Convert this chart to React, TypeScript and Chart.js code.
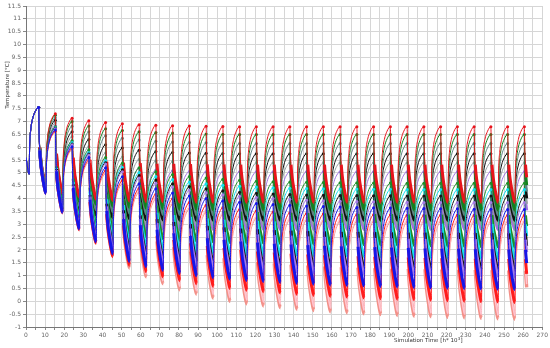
import { useEffect, useRef } from "react";
import { Chart, registerables } from "chart.js";
Chart.register(...registerables);

// ---- time base (h*10^3) ----
const YEAR = 8.76;
const FIRST_MIN = 1.65;
const PEAK_AFTER_MIN = 4.95;
const END_TIME = 262.8;
const START_VALUE = 5.6;

// cycle shape (fraction between min and peak)
const riseOffsets = [0, 0.25, 0.8, 1.8, 3.2, 4.95];
const riseShape = [0, 0.42, 0.66, 0.83, 0.94, 1];
const fallOffsets = [0.25, 0.6, 1.2, 2.2, 3.0];
const fallShape = [0.68, 0.5, 0.33, 0.17, 0.07];

// ---- series: yearly peaks (30) and minima (initial + 30) ----
const redAPeaks = [7.55,7.3,7.13,7.03,6.96,6.91,6.88,6.86,6.84,6.83,6.82,6.81,6.8,6.8,6.8,6.8,6.8,6.8,6.8,6.8,6.8,6.8,6.8,6.8,6.8,6.8,6.8,6.8,6.8,6.8];
const redAMins = [4.95,4.45,4.2,4.06,3.98,3.93,3.9,3.88,3.87,3.86,3.85,3.85,3.85,3.85,3.85,3.85,3.85,3.85,3.85,3.85,3.85,3.85,3.85,3.85,3.85,3.85,3.85,3.85,3.85,3.85,3.85];
const greenAPeaks = [7.55,7.25,7.0,6.83,6.72,6.65,6.6,6.57,6.55,6.53,6.52,6.51,6.5,6.5,6.5,6.5,6.5,6.5,6.5,6.5,6.5,6.5,6.5,6.5,6.5,6.5,6.5,6.5,6.5,6.5];
const greenAMins = [4.95,4.43,4.12,3.9,3.78,3.7,3.65,3.62,3.6,3.58,3.57,3.56,3.55,3.55,3.55,3.55,3.55,3.55,3.55,3.55,3.55,3.55,3.55,3.55,3.55,3.55,3.55,3.55,3.55,3.55,3.55];
const slatePeaks = [7.55,7.15,6.82,6.6,6.45,6.35,6.28,6.23,6.2,6.18,6.17,6.16,6.15,6.15,6.15,6.15,6.15,6.15,6.15,6.15,6.15,6.15,6.15,6.15,6.15,6.15,6.15,6.15,6.15,6.15];
const slateMins = [4.95,4.4,4.0,3.72,3.56,3.47,3.42,3.39,3.37,3.36,3.35,3.35,3.35,3.35,3.35,3.35,3.35,3.35,3.35,3.35,3.35,3.35,3.35,3.35,3.35,3.35,3.35,3.35,3.35,3.35,3.35];
const blackAPeaks = [7.55,7.05,6.6,6.3,6.1,5.97,5.88,5.83,5.8,5.78,5.77,5.76,5.75,5.75,5.75,5.75,5.75,5.75,5.75,5.75,5.75,5.75,5.75,5.75,5.75,5.75,5.75,5.75,5.75,5.75];
const blackAMins = [4.95,4.37,3.9,3.55,3.36,3.26,3.21,3.18,3.17,3.16,3.15,3.15,3.15,3.15,3.15,3.15,3.15,3.15,3.15,3.15,3.15,3.15,3.15,3.15,3.15,3.15,3.15,3.15,3.15,3.15,3.15];
const grayPeaks = [7.55,6.95,6.42,6.03,5.78,5.62,5.52,5.47,5.44,5.42,5.41,5.4,5.4,5.4,5.4,5.4,5.4,5.4,5.4,5.4,5.4,5.4,5.4,5.4,5.4,5.4,5.4,5.4,5.4,5.4];
const grayMins = [4.95,4.34,3.8,3.4,3.18,3.08,3.04,3.02,3.01,3.0,3.0,3.0,3.0,3.0,3.0,3.0,3.0,3.0,3.0,3.0,3.0,3.0,3.0,3.0,3.0,3.0,3.0,3.0,3.0,3.0,3.0];
const violetAPeaks = [7.55,6.85,6.25,5.8,5.5,5.3,5.18,5.11,5.08,5.06,5.05,5.05,5.05,5.05,5.05,5.05,5.05,5.05,5.05,5.05,5.05,5.05,5.05,5.05,5.05,5.05,5.05,5.05,5.05,5.05];
const violetAMins = [4.95,4.31,3.7,3.25,2.99,2.88,2.84,2.82,2.81,2.8,2.8,2.8,2.8,2.8,2.8,2.8,2.8,2.8,2.8,2.8,2.8,2.8,2.8,2.8,2.8,2.8,2.8,2.8,2.8,2.8,2.8];

const greenBPeaks = [7.55,6.8,6.25,5.9,5.6,5.38,5.2,5.05,4.94,4.86,4.8,4.75,4.71,4.68,4.66,4.65,4.64,4.63,4.62,4.62,4.61,4.61,4.6,4.6,4.6,4.6,4.6,4.6,4.6,4.6];
const greenBMins = [4.95,4.28,3.72,3.3,2.98,2.75,2.6,2.5,2.43,2.38,2.34,2.31,2.29,2.27,2.26,2.25,2.24,2.23,2.22,2.21,2.2,2.19,2.18,2.17,2.16,2.15,2.14,2.13,2.12,2.11,2.1];
const cyanPeaks = [7.55,6.76,6.18,5.8,5.48,5.22,5.02,4.86,4.74,4.65,4.58,4.52,4.48,4.45,4.42,4.4,4.39,4.38,4.37,4.37,4.36,4.36,4.35,4.35,4.35,4.35,4.35,4.35,4.35,4.35];
const cyanMins = [4.95,4.26,3.62,3.12,2.75,2.47,2.28,2.14,2.04,1.97,1.92,1.88,1.85,1.83,1.81,1.8,1.79,1.78,1.77,1.76,1.75,1.74,1.73,1.72,1.71,1.7,1.69,1.68,1.67,1.66,1.65];
const blackBPeaks = [7.55,6.74,6.13,5.74,5.4,5.12,4.9,4.72,4.58,4.47,4.38,4.31,4.25,4.21,4.18,4.16,4.14,4.13,4.12,4.12,4.11,4.11,4.1,4.1,4.1,4.1,4.1,4.1,4.1,4.1];
const blackBMins = [4.95,4.24,3.55,2.98,2.55,2.2,1.97,1.8,1.68,1.6,1.54,1.49,1.45,1.42,1.39,1.37,1.35,1.33,1.31,1.3,1.29,1.28,1.27,1.26,1.25,1.24,1.23,1.22,1.21,1.2,1.2];
const violetBPeaks = [7.55,6.72,6.1,5.7,5.35,5.05,4.8,4.6,4.45,4.33,4.23,4.15,4.09,4.04,4.0,3.97,3.94,3.92,3.9,3.89,3.88,3.87,3.86,3.85,3.85,3.85,3.85,3.85,3.85,3.85];
const violetBMins = [4.95,4.22,3.5,2.9,2.45,2.05,1.8,1.62,1.5,1.41,1.34,1.29,1.25,1.21,1.18,1.16,1.14,1.12,1.1,1.08,1.07,1.05,1.04,1.03,1.02,1.01,1.0,0.99,0.98,0.97,0.96];
const bluePeaks = [7.55,6.67,6.02,5.6,5.2,4.85,4.58,4.38,4.22,4.1,4.0,3.92,3.86,3.81,3.77,3.74,3.71,3.69,3.67,3.65,3.64,3.63,3.62,3.61,3.6,3.6,3.59,3.59,3.58,3.58];
const blueMins = [4.95,4.2,3.46,2.82,2.32,1.85,1.55,1.35,1.2,1.08,0.99,0.92,0.86,0.81,0.77,0.73,0.7,0.67,0.64,0.62,0.6,0.58,0.56,0.54,0.52,0.51,0.5,0.48,0.47,0.46,0.45];
const redBPeaks = [7.55,6.62,5.95,5.5,5.08,4.7,4.4,4.17,3.99,3.85,3.74,3.65,3.58,3.52,3.48,3.45,3.42,3.4,3.39,3.38,3.37,3.36,3.35,3.35,3.35,3.35,3.35,3.35,3.35,3.35];
const redBMins = [4.95,4.2,3.44,2.78,2.26,1.74,1.4,1.15,0.95,0.8,0.68,0.58,0.5,0.43,0.37,0.32,0.27,0.23,0.19,0.16,0.13,0.1,0.08,0.06,0.04,0.02,0.0,-0.02,-0.03,-0.05,-0.06];
const salmonPeaks = [7.55,6.6,5.9,5.42,4.98,4.58,4.25,3.98,3.77,3.6,3.47,3.37,3.3,3.24,3.2,3.17,3.15,3.13,3.12,3.11,3.1,3.1,3.1,3.1,3.1,3.1,3.1,3.1,3.1,3.1];
const salmonMins = [4.95,4.25,3.5,2.85,2.3,1.78,1.3,0.95,0.68,0.45,0.28,0.13,0.0,-0.1,-0.18,-0.25,-0.31,-0.36,-0.41,-0.45,-0.49,-0.52,-0.55,-0.58,-0.6,-0.62,-0.64,-0.66,-0.68,-0.7,-0.71];
const pinkPeaks = [7.55,6.62,5.93,5.46,5.03,4.64,4.31,4.05,3.85,3.68,3.55,3.45,3.38,3.32,3.28,3.25,3.23,3.21,3.2,3.19,3.18,3.18,3.18,3.18,3.18,3.18,3.18,3.18,3.18,3.18];
const pinkMins = [4.95,4.27,3.54,2.9,2.36,1.86,1.4,1.06,0.8,0.58,0.41,0.26,0.14,0.04,-0.04,-0.11,-0.17,-0.22,-0.27,-0.31,-0.35,-0.38,-0.41,-0.44,-0.46,-0.48,-0.5,-0.52,-0.54,-0.56,-0.57];

// first entry is drawn on top
const seriesList = [
  { color: "#1616e8", peaks: bluePeaks, mins: blueMins, band: 3 },
  { color: "#a57ae6", peaks: violetBPeaks, mins: violetBMins, band: 3 },
  { color: "#141414", peaks: blackBPeaks, mins: blackBMins, band: 3 },
  { color: "#12dfee", peaks: cyanPeaks, mins: cyanMins, band: 3 },
  { color: "#1c8f26", peaks: greenBPeaks, mins: greenBMins, band: 3 },
  { color: "#ff1c1c", peaks: redBPeaks, mins: redBMins, band: 3 },
  { color: "#ffc4d0", peaks: pinkPeaks, mins: pinkMins, band: 1.6 },
  { color: "#f39088", peaks: salmonPeaks, mins: salmonMins, band: 3.4 },
  { color: "#e8141c", peaks: redAPeaks, mins: redAMins, band: 3 },
  { color: "#13801e", peaks: greenAPeaks, mins: greenAMins, band: 3 },
  { color: "#5e8484", peaks: slatePeaks, mins: slateMins, band: 2.6 },
  { color: "#101010", peaks: blackAPeaks, mins: blackAMins, band: 3 },
  { color: "#94a0a0", peaks: grayPeaks, mins: grayMins, band: 2.6 },
  { color: "#a070e0", peaks: violetAPeaks, mins: violetAMins, band: 3 },
];

type Pt = { x: number; y: number; peak?: boolean; band?: boolean };

function buildSeries(peaks: number[], mins: number[]): Pt[] {
  const pts: Pt[] = [{ x: 0, y: START_VALUE }];
  for (let k = 0; k < peaks.length; k++) {
    const tm = FIRST_MIN + YEAR * k;
    const m = mins[k];
    const p = peaks[k];
    const mn = mins[k + 1];
    for (let j = 0; j < riseOffsets.length; j++) {
      const x = tm + riseOffsets[j];
      if (x > END_TIME) return pts;
      pts.push({ x, y: m + (p - m) * riseShape[j], peak: j === riseOffsets.length - 1 });
    }
    const tp = tm + PEAK_AFTER_MIN;
    for (let j = 0; j < fallOffsets.length; j++) {
      const x = tp + fallOffsets[j];
      if (x > END_TIME) return pts;
      pts.push({ x, y: mn + (p - mn) * fallShape[j], band: fallOffsets[j] >= 0.6 });
    }
  }
  return pts;
}

const axisTitles = {
  id: "axisTitles",
  afterDraw(chart: any) {
    const c = chart.ctx as CanvasRenderingContext2D;
    c.save();
    c.fillStyle = "#333";
    c.font = '5.5px "DejaVu Sans", sans-serif';
    c.textBaseline = "middle";
    c.save();
    c.translate(7.5, 85);
    c.rotate(-Math.PI / 2);
    c.textAlign = "center";
    c.fillText("Temperature [°C]", 0, 0);
    c.restore();
    const main = "Simulation Time [h* 10";
    let x = 394;
    const y = 341;
    c.textAlign = "left";
    c.fillText(main, x, y);
    x += c.measureText(main).width;
    c.font = '4px "DejaVu Sans", sans-serif';
    c.fillText("3", x + 0.3, y - 2);
    x += c.measureText("3").width + 0.6;
    c.font = '5.5px "DejaVu Sans", sans-serif';
    c.fillText("]", x, y);
    c.restore();
  },
};

export default function App() {
  const ref = useRef<HTMLCanvasElement>(null);
  useEffect(() => {
    document.body.style.margin = "0";
    const datasets = seriesList.map((s) => {
      const data = buildSeries(s.peaks, s.mins);
      return {
        data,
        borderColor: s.color,
        backgroundColor: s.color,
        pointBackgroundColor: s.color,
        pointBorderWidth: 0,
        pointRadius: (ctx: any) => (data[ctx.dataIndex] && data[ctx.dataIndex].peak ? 1.5 : 0),
        borderWidth: 1,
        cubicInterpolationMode: "monotone" as const,
        fill: false,
        segment: {
          borderWidth: (ctx: any) => (data[ctx.p0DataIndex] && data[ctx.p0DataIndex].band ? s.band : 1),
        },
      };
    });
    const chart = new Chart(ref.current!, {
      type: "line",
      data: { datasets },
      options: {
        animation: false,
        responsive: false,
        parsing: { xAxisKey: "x", yAxisKey: "y" },
        layout: { padding: { top: 6, right: 6.5, left: 0, bottom: 0 } },
        plugins: { legend: { display: false }, tooltip: { enabled: false } },
        scales: {
          x: {
            type: "linear",
            min: 0,
            max: 270,
            afterFit: (s: any) => { s.height = 21; },
            ticks: {
              stepSize: 5,
              autoSkip: false,
              maxRotation: 0,
              padding: 2,
              color: "#666",
              font: { size: 6, family: "'DejaVu Sans', sans-serif" },
              callback: (v: any) => (Number(v) % 10 === 0 ? String(v) : ""),
            },
            grid: { color: "#d6d6d6", lineWidth: 1, tickLength: 3, tickColor: "#888" },
            border: { color: "#777" },
          },
          y: {
            min: -1,
            max: 11.5,
            afterFit: (s: any) => { s.width = 26; },
            ticks: {
              stepSize: 0.5,
              autoSkip: false,
              padding: 2,
              color: "#666",
              font: { size: 6, family: "'DejaVu Sans', sans-serif" },
              callback: (v: any) => String(v),
            },
            grid: { color: "#d6d6d6", lineWidth: 1, tickLength: 3, tickColor: "#888" },
            border: { color: "#777" },
          },
        },
      },
      plugins: [axisTitles],
    });
    return () => chart.destroy();
  }, []);
  return (
    <div style={{ width: 550, height: 348 }}>
      <canvas ref={ref} width={550} height={348} />
    </div>
  );
}
